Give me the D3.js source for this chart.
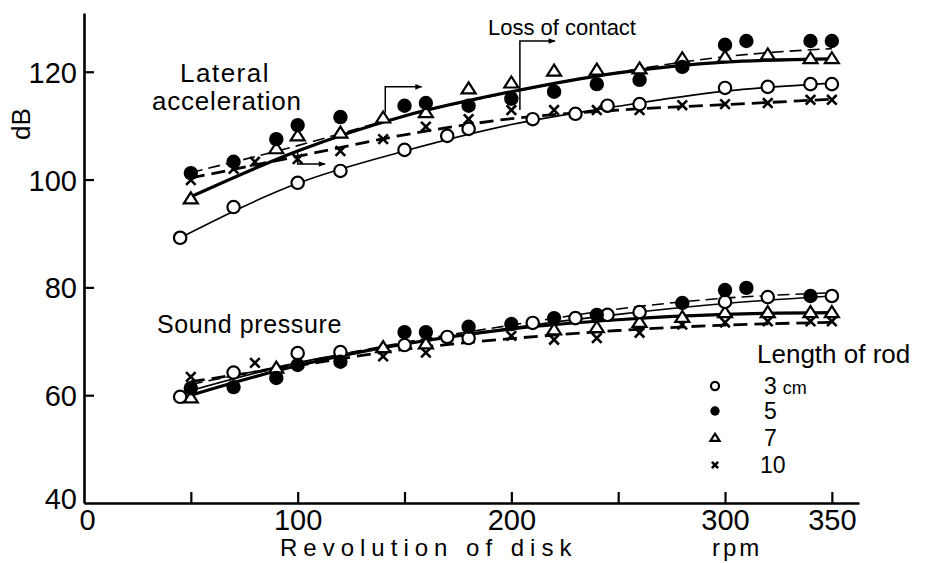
<!DOCTYPE html>
<html><head><meta charset="utf-8">
<script src="https://cdn.jsdelivr.net/npm/d3@7"></script>
<style>
html,body{margin:0;padding:0;background:#fff;}
svg{display:block;}
text{fill:#000;}
</style></head>
<body><svg id="c" width="927" height="563"></svg>
<script>
// ---------- data ----------
const xTicks = [0, 50, 100, 150, 200, 250, 300, 350];
const xTickLabels = {0: "0", 100: "100", 200: "200", 300: "300", 350: "350"};
const yTicks = [40, 60, 80, 100, 120];

const rods = ["3 cm", "5", "7", "10"];

// Lateral acceleration (dB) measured points
const latRpm3 = [45, 70, 100, 120, 150, 170, 180, 210, 230, 245, 260, 300, 320, 340, 350];
const latDb3  = [89.2, 94.9, 99.4, 101.6, 105.5, 108.1, 109.4, 111.2, 112.2, 113.7, 114.0, 117.0, 117.2, 117.7, 117.7];
const latRpm5 = [50, 70, 90, 100, 120, 150, 160, 180, 200, 220, 240, 260, 280, 300, 310, 340, 350];
const latDb5  = [101.2, 103.3, 107.5, 110.1, 111.6, 113.7, 114.2, 113.7, 115.0, 116.3, 117.7, 118.5, 120.9, 125.0, 125.7, 125.7, 125.7];
const latRpm7 = [50, 90, 100, 120, 140, 160, 180, 200, 220, 240, 260, 280, 300, 320, 340, 350];
const latDb7  = [96.4, 105.7, 108.1, 108.6, 111.4, 112.4, 116.8, 117.9, 120.1, 120.3, 120.5, 122.4, 122.7, 123.1, 122.4, 122.4];
const latRpm10 = [50, 70, 80, 100, 120, 140, 160, 180, 200, 220, 240, 260, 280, 300, 320, 340, 350];
const latDb10  = [99.9, 102.0, 103.3, 103.8, 105.3, 107.5, 109.8, 111.2, 112.9, 112.9, 112.9, 112.9, 113.8, 114.0, 114.2, 114.8, 114.8];

// Sound pressure (dB) measured points
const sndRpm3 = [45, 70, 100, 120, 150, 170, 180, 210, 230, 245, 260, 300, 320, 350];
const sndDb3  = [59.7, 64.2, 67.8, 68.0, 69.3, 70.8, 70.6, 73.4, 74.3, 74.9, 75.4, 77.3, 78.2, 78.4];
const sndRpm5 = [50, 70, 90, 100, 120, 150, 160, 180, 200, 220, 240, 280, 300, 310, 340];
const sndDb5  = [61.3, 61.5, 63.2, 65.6, 66.2, 71.7, 71.7, 72.7, 73.2, 74.3, 74.9, 77.1, 79.5, 79.9, 78.4];
const sndRpm7 = [50, 90, 140, 160, 220, 240, 260, 280, 300, 320, 340, 350];
const sndDb7  = [59.5, 65.0, 68.8, 69.5, 72.1, 72.5, 73.5, 74.4, 75.3, 75.3, 75.3, 75.3];
const sndRpm10 = [50, 80, 140, 160, 200, 220, 240, 260, 280, 300, 320, 340, 350];
const sndDb10  = [63.4, 66.0, 67.2, 67.9, 71.0, 70.3, 70.6, 71.6, 73.1, 73.5, 73.7, 73.7, 73.7];

// Fitted curves
const fitRpm3 = [45, 100, 150, 200, 250, 300, 350];
const fitRpm  = [50, 100, 150, 200, 250, 300, 350];
const latFit3  = [89.2, 99.3, 105.3, 110.2, 113.6, 116.4, 117.9];
const latFit5  = [101.3, 106.3, 111.8, 116.2, 119.9, 122.8, 124.3];
const latFit7  = [96.8, 105.3, 111.8, 116.3, 119.8, 121.8, 122.4];
const latFit10 = [100.3, 104.3, 108.3, 111.3, 112.9, 113.9, 114.9];
const sndFit3  = [60.3, 66.0, 69.5, 72.5, 75.0, 77.0, 78.4];
const sndFit5  = [62.0, 66.0, 69.8, 73.0, 76.0, 78.0, 79.0];
const sndFit7  = [60.0, 65.5, 69.5, 72.3, 74.0, 75.0, 75.3];
const sndFit10 = [62.5, 65.5, 68.5, 70.5, 72.0, 73.0, 73.5];

// Arrows ("loss of contact") : rpm of vertical, dB at marker, dB of horizontal, rpm of arrow tip
const arrowRpm   = [100, 141, 204];
const arrowDbA   = [105.0, 112.4, 112.9];
const arrowDbB   = [102.9, 117.2, 125.7];
const arrowRpmTo = [112.8, 158, 220.4];

// ---------- drawing ----------
const svg = d3.select("#c");
svg.append("rect").attr("width", 927).attr("height", 563).attr("fill", "#fff");
const x = d3.scaleLinear().domain([0, 362.7]).range([84, 859]);
const y = d3.scaleLinear().domain([40, 130.9]).range([503, 13]);

const NUM = "'Liberation Sans Narrow', 'Liberation Sans', sans-serif";
const TXT = "'Liberation Sans', Arial, sans-serif";

// axes
const gx = svg.append("g").attr("transform", `translate(0,${y(40)})`)
  .call(d3.axisBottom(x).tickValues(xTicks).tickSize(-11).tickSizeOuter(0)
    .tickFormat(d => xTickLabels[d] || "").tickPadding(8));
const gy = svg.append("g").attr("transform", `translate(${x(0)},0)`)
  .call(d3.axisLeft(y).tickValues(yTicks).tickSize(-10).tickSizeOuter(0).tickPadding(8));
[gx, gy].forEach(g => {
  g.select(".domain").attr("stroke", "#000").attr("stroke-width", 2.6);
  g.selectAll(".tick line").attr("stroke", "#000").attr("stroke-width", 2.2);
  g.selectAll(".tick text").attr("font-family", NUM).attr("font-size", 29).attr("fill", "#000");
});
gy.selectAll(".tick").filter(d => d === 40).select("line").remove();
gy.selectAll(".tick text").attr("x", -7).attr("dy", "0.36em");
gy.selectAll(".tick").filter(d => d === 40).select("text").attr("dy", "0.2em");
gx.selectAll(".tick").filter(d => d === 0).select("line").remove();
gx.selectAll(".tick text").attr("dy", "0.72em").attr("y", 6);
gx.selectAll(".tick").filter(d => d === 0).select("text").attr("dx", 3);

// axis titles
svg.append("text").attr("transform", `translate(30,124) rotate(-90)`)
  .attr("text-anchor", "middle").attr("font-family", TXT).attr("font-size", 26).text("dB");
svg.append("text").attr("x", 280).attr("y", 556).attr("font-family", TXT).attr("font-size", 24)
  .attr("letter-spacing", 6).text("Revolution of  disk");
svg.append("text").attr("x", 712).attr("y", 556).attr("font-family", TXT).attr("font-size", 24)
  .attr("letter-spacing", 3).text("rpm");

// group labels
svg.append("text").attr("x", 180).attr("y", 82).attr("font-family", TXT).attr("font-size", 26)
  .attr("letter-spacing", 1.5).text("Lateral");
svg.append("text").attr("x", 152).attr("y", 110).attr("font-family", TXT).attr("font-size", 26)
  .attr("letter-spacing", 0.8).text("acceleration");
svg.append("text").attr("x", 157).attr("y", 333).attr("font-family", TXT).attr("font-size", 25)
  .attr("letter-spacing", 0.6).text("Sound pressure");
svg.append("text").attr("x", 488).attr("y", 35).attr("font-family", TXT).attr("font-size", 22)
  .text("Loss of contact");

// curves
const line = d3.line().x(d => x(d[0])).y(d => y(d[1])).curve(d3.curveMonotoneX);
const styles = [
  {w: 1.6, dash: null},
  {w: 1.6, dash: "12,6"},
  {w: 3.2, dash: null},
  {w: 2.8, dash: "14,7"}
];
const fits = [
  [fitRpm3, latFit3], [fitRpm, latFit5], [fitRpm, latFit7], [fitRpm, latFit10],
  [fitRpm3, sndFit3], [fitRpm, sndFit5], [fitRpm, sndFit7], [fitRpm, sndFit10]
];
fits.forEach((f, i) => {
  const s = styles[i % 4];
  svg.append("path").attr("d", line(d3.zip(f[0], f[1])))
    .attr("fill", "none").attr("stroke", "#000").attr("stroke-width", s.w)
    .attr("stroke-dasharray", s.dash);
});

// markers
function marker(g, kind, cx, cy, sc) {
  sc = sc || 1;
  if (kind === 0) {
    g.append("circle").attr("cx", cx).attr("cy", cy).attr("r", 6.2 * sc)
      .attr("fill", "#fff").attr("stroke", "#000").attr("stroke-width", 2.2);
  } else if (kind === 1) {
    g.append("circle").attr("cx", cx).attr("cy", cy).attr("r", 7.2 * sc).attr("fill", "#000");
  } else if (kind === 2) {
    const h = 11 * sc, w = 7 * sc;
    const p = d3.path();
    p.moveTo(cx, cy - h * 0.6); p.lineTo(cx + w, cy + h * 0.4); p.lineTo(cx - w, cy + h * 0.4); p.closePath();
    g.append("path").attr("d", p.toString()).attr("fill", "#fff").attr("stroke", "#000")
      .attr("stroke-width", 2.2).attr("stroke-linejoin", "miter");
  } else {
    const r = 4.8 * sc;
    const p = d3.path();
    p.moveTo(cx - r, cy - r); p.lineTo(cx + r, cy + r);
    p.moveTo(cx + r, cy - r); p.lineTo(cx - r, cy + r);
    g.append("path").attr("d", p.toString()).attr("stroke", "#000").attr("stroke-width", 2.6);
  }
}
const pts = [
  [latRpm3, latDb3, 0], [latRpm5, latDb5, 1], [latRpm7, latDb7, 2], [latRpm10, latDb10, 3],
  [sndRpm3, sndDb3, 0], [sndRpm5, sndDb5, 1], [sndRpm7, sndDb7, 2], [sndRpm10, sndDb10, 3]
];
const gm = svg.append("g");
[3, 2, 0, 1].forEach(k => {
  pts.filter(p => p[2] === k).forEach(p => {
    p[0].forEach((r, i) => marker(gm, k, x(r), y(p[1][i])));
  });
});

// arrows
svg.append("defs").append("marker").attr("id", "ah").attr("viewBox", "0 0 10 10")
  .attr("refX", 9).attr("refY", 5).attr("markerWidth", 9).attr("markerHeight", 7)
  .attr("markerUnits", "userSpaceOnUse").attr("orient", "auto")
  .append("path").attr("d", "M0,1 L10,5 L0,9 Z").attr("fill", "#000");
arrowRpm.forEach((r, i) => {
  const p = d3.path();
  p.moveTo(x(r), y(arrowDbA[i])); p.lineTo(x(r), y(arrowDbB[i])); p.lineTo(x(arrowRpmTo[i]), y(arrowDbB[i]));
  svg.append("path").attr("d", p.toString()).attr("fill", "none").attr("stroke", "#000")
    .attr("stroke-width", 1.5).attr("marker-end", "url(#ah)");
});

// legend
svg.append("text").attr("x", 757).attr("y", 363).attr("font-family", TXT).attr("font-size", 26)
  .text("Length of rod");
const legY = [386, 411, 438, 465];
rods.forEach((t, i) => {
  marker(svg, i, 715, legY[i], 0.65);
  const tx = svg.append("text").attr("x", i === 3 ? 760 : 764).attr("y", legY[i] + 8)
    .attr("font-family", TXT).attr("font-size", 23);
  if (t.indexOf(" ") > 0) {
    const parts = t.split(" ");
    tx.append("tspan").text(parts[0]);
    tx.append("tspan").attr("font-size", 18).attr("dx", 6).text(parts[1]);
  } else tx.text(t);
});
</script></body></html>
